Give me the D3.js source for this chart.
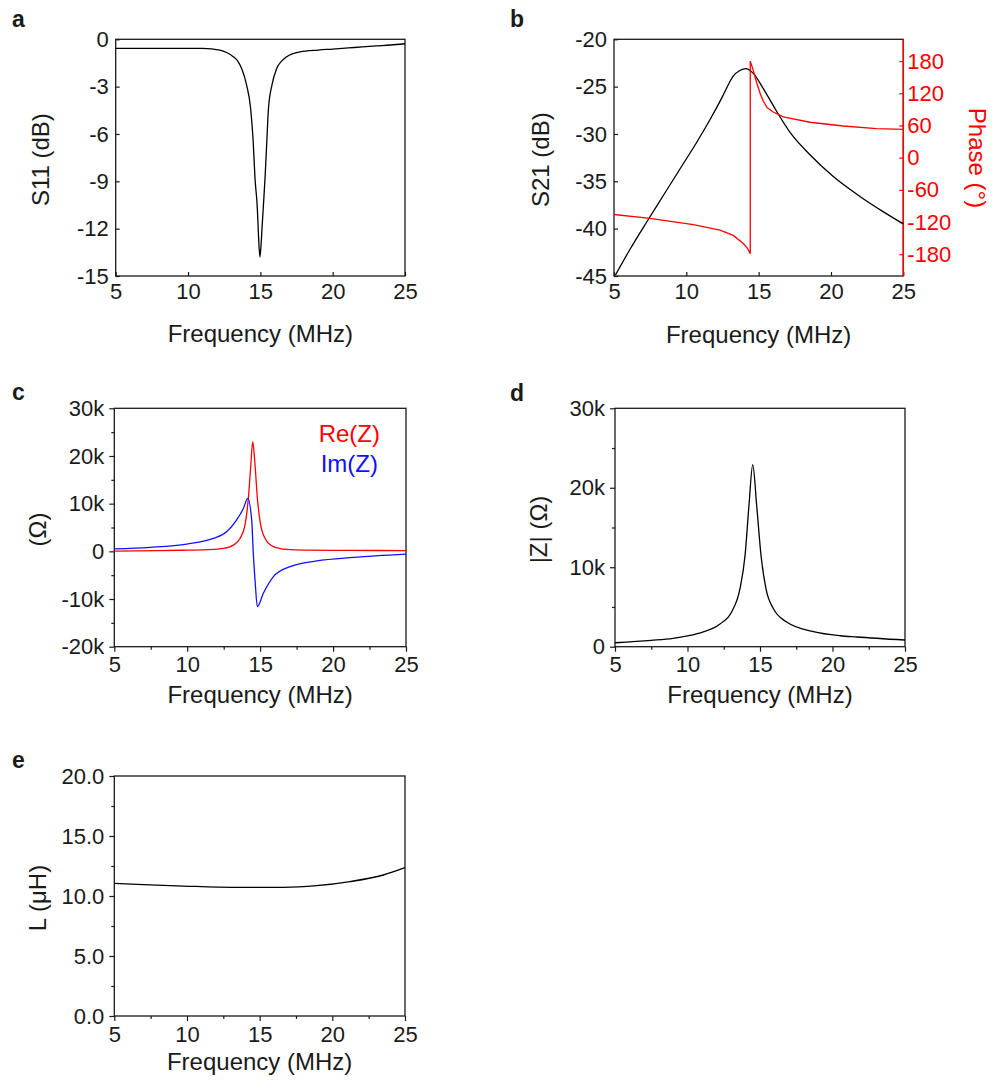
<!DOCTYPE html>
<html>
<head>
<meta charset="utf-8">
<script src="https://cdn.jsdelivr.net/npm/d3@7"></script>
<style>
  body { margin: 0; background: #fff; }
  svg text { font-family: "Liberation Sans", Arial, sans-serif; fill: #1a1a1a; }
</style>
</head>
<body>
<script>
// values (frequency in MHz)
const freqTicks = [5, 10, 15, 20, 25];
const freqMinor = [7.5, 12.5, 17.5, 22.5];

// a: S11
const s11Freq = [5, 8, 11, 12.2, 12.7, 13.13, 13.45, 13.7, 14.05, 14.33, 14.5, 14.63, 14.79, 14.87, 14.97,
                 15.05, 15.12, 15.22, 15.33, 15.45, 15.56, 15.8, 16.13, 16.5, 16.82, 17.74, 19, 20, 21.5, 23, 24, 25];
const s11Db = [-0.57, -0.57, -0.58, -0.68, -0.85, -1.1, -1.4, -1.84, -2.9, -4.4, -6.4, -8.8, -10.7, -12.4, -13.8,
               -13.0, -11.9, -10.4, -8.7, -6.4, -4.4, -2.9, -1.85, -1.35, -1.1, -0.79, -0.68, -0.62, -0.52, -0.42, -0.36, -0.28];
const s11Ticks = [0, -3, -6, -9, -12, -15];

// b: S21 and phase
const s21Freq = [5.1, 6.1, 7.26, 8.41, 9.56, 10.71, 11.63, 12.55, 12.9, 13.24, 13.7, 14.12, 14.63, 15.32, 16.24, 17.16, 18.55, 20.16, 22, 23.6, 25];
const s21Db = [-44.9, -42.2, -39.3, -36.5, -33.7, -30.9, -28.5, -25.9, -24.8, -23.9, -23.3, -23.1, -23.6, -25.2, -27.6, -29.8, -32.2, -34.5, -36.6, -38.2, -39.5];
const phaseFreq = [5, 7.49, 10.48, 12.33, 13.24, 13.94, 14.2, 14.42, 14.42, 14.6, 14.86, 15.1, 15.32, 15.6, 16.01, 16.7, 18.55, 20.85, 23.15, 25];
const phaseDeg = [-106, -113, -125, -135, -145, -160, -168, -179, 180, 165, 140, 120, 105, 93, 85, 76, 66, 59, 54, 52.6];
const s21Ticks = [-20, -25, -30, -35, -40, -45];
const phaseTicks = [180, 120, 60, 0, -60, -120, -180];

// c: Re(Z), Im(Z) in ohm
const reFreq = [5, 8, 10, 11.5, 12.49, 13.16, 13.62, 13.96, 14.19, 14.36, 14.49, 14.65, 14.81, 15.0, 15.34, 15.91, 16.83, 18, 21, 25];
const reZ = [50, 150, 250, 350, 600, 1300, 2700, 5500, 11100, 18100, 23000, 18100, 11100, 6200, 2700, 1000, 400, 250, 200, 150];
const imFreq = [5, 7.45, 9.97, 11.79, 12.7, 13.39, 13.85, 14.15, 14.42, 14.53, 14.65, 14.81, 15.22, 15.91, 17.05, 18.88, 21.39, 25];
const imZ = [500, 840, 1530, 2700, 4100, 6600, 9000, 11100, 6600, -400, -6000, -11600, -8800, -5300, -3200, -2000, -1260, -570];
const zTicks = [30000, 20000, 10000, 0, -10000, -20000];
const zMinor = [25000, 15000, 5000, -5000, -15000];

// d: |Z|
const magFreq = [5, 7.5, 9, 10, 11, 12.24, 13.05, 13.62, 13.97, 14.24, 14.5, 14.77, 15.07, 15.41, 15.92, 16.84, 18.68, 20.52, 21.67, 25];
const magZ = [500, 800, 1050, 1350, 1800, 2850, 4400, 7300, 11500, 17800, 22900, 17800, 11500, 7300, 4800, 3100, 1900, 1380, 1220, 840];
const magTicks = [30000, 20000, 10000, 0];
const magMinor = [25000, 15000, 5000];

// e: L
const indFreq = [5, 7, 9.75, 13.19, 16.63, 18.93, 21.22, 23.51, 25];
const indL = [11.06, 10.95, 10.83, 10.72, 10.72, 10.86, 11.2, 11.75, 12.36];
const lTicks = [20, 15, 10, 5, 0];
const lMinor = [17.5, 12.5, 7.5, 2.5];

const kFmt = d => d === 0 ? '0' : (d < 0 ? '-' : '') + Math.abs(d / 1000) + 'k';
const plainFmt = d => (d < 0 ? '-' : '') + Math.abs(d);

const svg = d3.select('body').append('svg')
    .attr('width', 992)
    .attr('height', 1080);

const tickFont = 22;
const titleFont = 24;

function styleText(sel) {
  sel.selectAll('text').attr('font-size', tickFont).attr('font-family', null);
  sel.select('.domain').remove();
}

function panel(p) {
  const x = d3.scaleLinear().domain([5, 25]).range([p.left, p.right]);
  const y = d3.scaleLinear().domain(p.yDomain).range([p.bottom, p.top]);
  const g = svg.append('g');
  const ts = p.inward ? -4 : 5;

  g.append('g')
      .attr('transform', `translate(0,${p.bottom})`)
      .call(d3.axisBottom(x).tickValues(freqTicks).tickFormat(d3.format('d'))
        .tickSize(ts).tickPadding(p.inward ? 7 : 5))
      .call(styleText);
  g.append('g')
      .attr('transform', `translate(${p.left},0)`)
      .call(d3.axisLeft(y).tickValues(p.yTicks).tickFormat(p.fmt)
        .tickSize(ts).tickPadding(p.inward ? 7 : 5))
      .call(styleText);

  if (!p.inward) {
    g.append('g')
        .attr('transform', `translate(0,${p.bottom})`)
        .call(d3.axisBottom(x).tickValues(freqMinor).tickFormat(() => '').tickSize(3))
        .call(styleText);
    g.append('g')
        .attr('transform', `translate(${p.left},0)`)
        .call(d3.axisLeft(y).tickValues(p.yMinor).tickFormat(() => '').tickSize(3))
        .call(styleText);
  }
  g.selectAll('.tick line').attr('stroke', '#1a1a1a').attr('stroke-width', 1.2);

  g.append('rect')
      .attr('x', p.left).attr('y', p.top)
      .attr('width', p.right - p.left).attr('height', p.bottom - p.top)
      .attr('fill', 'none').attr('stroke', '#1a1a1a').attr('stroke-width', 1.3);

  // titles
  g.append('text')
      .attr('x', (p.left + p.right) / 2).attr('y', p.xTitleY)
      .attr('text-anchor', 'middle').attr('font-size', titleFont)
      .text('Frequency (MHz)');
  g.append('text')
      .attr('transform', `translate(${p.yTitleX},${(p.top + p.bottom) / 2 + 2}) rotate(-90)`)
      .attr('text-anchor', 'middle').attr('font-size', titleFont)
      .text(p.yTitle);
  g.append('text')
      .attr('x', p.letterX).attr('y', p.letterY)
      .attr('font-size', 23).attr('font-weight', 'bold')
      .text(p.letter);

  return {g, x, y};
}

function addLine(pn, xs, ys, color, curve) {
  const pts = xs.map((f, i) => [f, ys[i]]);
  pn.g.append('path')
      .datum(pts)
      .attr('fill', 'none')
      .attr('stroke', color)
      .attr('stroke-width', 1.3)
      .attr('d', d3.line()
        .x(d => pn.x(d[0]))
        .y(d => pn.y(d[1]))
        .curve(curve || d3.curveMonotoneX));
}

// a
const pa = panel({left: 115.7, right: 405, top: 39.3, bottom: 276, yDomain: [-15, 0],
  yTicks: s11Ticks, fmt: plainFmt, inward: true, yTitle: 'S11 (dB)', yTitleX: 49, xTitleY: 342,
  letter: 'a', letterX: 12, letterY: 27});
addLine(pa, s11Freq, s11Db, '#000');

// b
const pb = panel({left: 614, right: 903.3, top: 39.3, bottom: 276, yDomain: [-45, -20],
  yTicks: s21Ticks, fmt: plainFmt, inward: true, yTitle: 'S21 (dB)', yTitleX: 549, xTitleY: 343,
  letter: 'b', letterX: 510, letterY: 27});
const yPhase = d3.scaleLinear().domain([-220.6, 220.6]).range([276, 39.3]);
const phaseAxis = pb.g.append('g')
    .attr('transform', 'translate(903.3,0)')
    .call(d3.axisRight(yPhase).tickValues(phaseTicks).tickFormat(plainFmt).tickSize(-4).tickPadding(4))
    .call(styleText);
phaseAxis.selectAll('text').style('fill', '#ff0000');
phaseAxis.selectAll('line').attr('stroke', '#ff0000').attr('stroke-width', 1.2);
pb.g.append('line')
    .attr('x1', 903.3).attr('x2', 903.3).attr('y1', 39.3).attr('y2', 276)
    .attr('stroke', '#ff0000').attr('stroke-width', 1.5);
pb.g.append('text')
    .attr('transform', 'translate(969,158) rotate(90)')
    .attr('text-anchor', 'middle').attr('font-size', titleFont)
    .style('fill', '#ff0000')
    .text('Phase (°)');
addLine(pb, s21Freq, s21Db, '#000');
addLine({g: pb.g, x: pb.x, y: yPhase}, phaseFreq, phaseDeg, '#ff0000', d3.curveLinear);

// c
const pc = panel({left: 114.3, right: 406, top: 408.3, bottom: 646.7, yDomain: [-20000, 30000],
  yTicks: zTicks, yMinor: zMinor, fmt: kFmt, inward: false, yTitle: '(Ω)', yTitleX: 46, xTitleY: 703,
  letter: 'c', letterX: 12, letterY: 400});
addLine(pc, reFreq, reZ, '#ff0000');
addLine(pc, imFreq, imZ, '#1010ff');
pc.g.append('text').attr('x', 380).attr('y', 442).attr('text-anchor', 'end')
    .attr('font-size', titleFont).style('fill', '#ff0000').text('Re(Z)');
pc.g.append('text').attr('x', 378).attr('y', 472).attr('text-anchor', 'end')
    .attr('font-size', titleFont).style('fill', '#1010ff').text('Im(Z)');

// d
const pd = panel({left: 615, right: 905, top: 408.3, bottom: 646.7, yDomain: [0, 30000],
  yTicks: magTicks, yMinor: magMinor, fmt: kFmt, inward: false, yTitle: '|Z| (Ω)', yTitleX: 547, xTitleY: 703,
  letter: 'd', letterX: 510, letterY: 401});
addLine(pd, magFreq, magZ, '#000');

// e
const pe = panel({left: 114.3, right: 405, top: 776, bottom: 1016, yDomain: [0, 20],
  yTicks: lTicks, yMinor: lMinor, fmt: d3.format('.1f'), inward: false, yTitle: 'L (μH)', yTitleX: 46, xTitleY: 1070,
  letter: 'e', letterX: 12, letterY: 768});
addLine(pe, indFreq, indL, '#000');
</script>
</body>
</html>
